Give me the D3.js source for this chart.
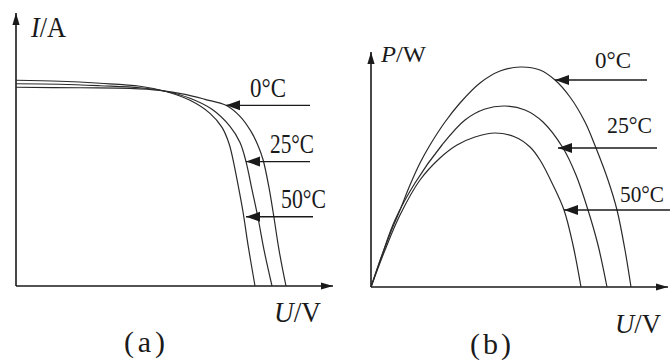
<!DOCTYPE html>
<html>
<head>
<meta charset="utf-8">
<script src="https://cdn.jsdelivr.net/npm/d3@7"></script>
<style>
  html, body { margin: 0; padding: 0; background: #fff; }
  svg { display: block; }
  svg text { font-family: "Liberation Serif", "Times New Roman", "DejaVu Serif", serif; }
</style>
</head>
<body>
<svg id="chart" width="670" height="360"></svg>
<script>
// temperatures
const temps = ["0°C", "25°C", "50°C"];

// (a) I-U curves (U in V, I in A, arbitrary units)
const ivU0  = [0, 6.4, 11.4, 14.4, 16.9, 18.9, 21.0, 22.4, 23.5, 24.2, 24.7, 25.3, 25.8, 26.3, 27.0];
const ivI0  = [4.95, 4.9375, 4.925, 4.875, 4.775, 4.65, 4.5, 4.225, 3.85, 3.5, 3.15, 2.45, 1.7, 0.9, 0];
const ivU25 = [0, 4.4, 8.4, 12.4, 14.9, 17.4, 19.6, 21.4, 22.4, 23.0, 23.6, 24.2, 24.8, 25.6];
const ivI25 = [5.0375, 5.025, 4.9875, 4.9375, 4.85, 4.675, 4.4, 3.975, 3.575, 3.1, 2.4, 1.7, 0.9, 0];
const ivU50 = [0, 4.4, 8.4, 12.4, 14.9, 17.4, 19.4, 20.6, 21.3, 21.7, 22.2, 22.7, 23.2, 23.9];
const ivI50 = [5.125, 5.1, 5.05, 4.975, 4.85, 4.625, 4.3, 3.95, 3.55, 3.15, 2.525, 1.85, 1.025, 0];

// (b) P-U curves (U in V, P in W)
const pvU0  = [0, 0.9, 1.9, 2.9, 3.9, 4.9, 5.9, 7.4, 8.9, 10.9, 12.9, 14.9, 16.9, 18.4, 19.9, 21.4, 22.5, 23.7, 24.6, 25.4, 26.0];
const pvP0  = [0, 5.2, 10.6, 15.4, 20.4, 24.8, 28.4, 33.0, 36.8, 40.8, 43.2, 44.0, 43.4, 41.4, 38.0, 33.0, 27.8, 21.4, 15.4, 7.4, 0];
const pvU25 = [0, 1.1, 2.4, 4.4, 7.1, 9.4, 11.4, 13.4, 15.4, 17.2, 19.2, 20.5, 21.7, 22.7, 23.6];
const pvP25 = [0, 6.4, 13.4, 20.8, 28.4, 33.4, 35.6, 36.2, 35.4, 33.0, 27.8, 22.4, 15.4, 8.4, 0];
const pvU50 = [0, 1.4, 2.9, 4.9, 6.9, 8.6, 10.4, 12.4, 14.4, 15.9, 16.9, 18.2, 19.3, 20.2, 21.0];
const pvP50 = [0, 7.4, 14.4, 21.4, 25.8, 28.4, 30.0, 30.8, 30.0, 28.0, 25.4, 20.4, 15.4, 8.4, 0];

// arrows pointing at the curves (data units)
const arrowLevelA = [4.5, 3.1, 1.725];
const arrowTipA   = [21.0, 23.0, 23.0];
const arrowTailA  = [29.4, 29.4, 29.7];
const arrowLevelB = [41.4, 27.8, 15.4];
const arrowTipB   = [18.4, 18.7, 19.3];
const arrowTailB  = [27.6, 28.6, 29.9];

const svg = d3.select("#chart");
const ink = "#1a1a1a";
const serif = "'Liberation Serif', 'Times New Roman', 'DejaVu Serif', serif";

// markers
const defs = svg.append("defs");
defs.append("marker")
    .attr("id", "axisHead")
    .attr("markerUnits", "userSpaceOnUse")
    .attr("viewBox", "0 -5 12 10")
    .attr("refX", 12).attr("refY", 0)
    .attr("markerWidth", 12).attr("markerHeight", 10)
    .attr("orient", "auto")
    .append("path").attr("d", "M0,-3.6L12,0L0,3.6Z").attr("fill", ink);
defs.append("marker")
    .attr("id", "noteHead")
    .attr("markerUnits", "userSpaceOnUse")
    .attr("viewBox", "0 -6 14 12")
    .attr("refX", 14).attr("refY", 0)
    .attr("markerWidth", 14).attr("markerHeight", 12)
    .attr("orient", "auto")
    .append("path").attr("d", "M0,-5L14,0L0,5Z").attr("fill", ink);

function zip(us, vs) {
    return us.map((u, i) => [u, vs[i]]);
}

function drawPanel(cfg) {
    const { x, y, series, level, tip, tail, labels, axisLabelY, axisLabelX, caption } = cfg;
    const g = svg.append("g");

    // axes
    const x0 = x.range()[0], x1 = x.range()[1];
    const y0 = y.range()[0], y1 = y.range()[1];
    g.append("line")
        .attr("x1", x0).attr("y1", y0).attr("x2", x1).attr("y2", y0)
        .attr("stroke", ink).attr("stroke-width", 1.6)
        .attr("marker-end", "url(#axisHead)");
    g.append("line")
        .attr("x1", x0).attr("y1", y0).attr("x2", x0).attr("y2", y1)
        .attr("stroke", ink).attr("stroke-width", 1.6)
        .attr("marker-end", "url(#axisHead)");

    // curves
    const line = d3.line()
        .x(d => x(d[0]))
        .y(d => y(d[1]))
        .curve(d3.curveCatmullRom.alpha(0.5));
    g.selectAll("path.curve")
        .data(series)
        .join("path")
        .attr("class", "curve")
        .attr("d", line)
        .attr("fill", "none")
        .attr("stroke", "#2a2a2a")
        .attr("stroke-width", 1.2);

    // arrows
    g.selectAll("line.note")
        .data(level)
        .join("line")
        .attr("class", "note")
        .attr("x1", (d, i) => x(tail[i]))
        .attr("x2", (d, i) => x(tip[i]))
        .attr("y1", d => y(d))
        .attr("y2", d => y(d))
        .attr("stroke", ink)
        .attr("stroke-width", 1.3)
        .attr("marker-end", "url(#noteHead)");

    // temperature labels
    g.selectAll("text.temp")
        .data(temps)
        .join("text")
        .attr("class", "temp")
        .attr("x", (d, i) => labels[i][0])
        .attr("y", (d, i) => labels[i][1])
        .attr("font-family", serif)
        .attr("font-size", labels.size)
        .attr("textLength", (d, i) => labels[i][2])
        .attr("lengthAdjust", "spacingAndGlyphs")
        .attr("fill", ink)
        .text(d => d);

    // axis labels
    [axisLabelY, axisLabelX].forEach(a => {
        const t = g.append("text")
            .attr("x", a.x).attr("y", a.y)
            .attr("font-family", serif)
            .attr("font-size", a.size)
            .attr("textLength", a.w)
            .attr("lengthAdjust", "spacingAndGlyphs")
            .attr("fill", ink);
        t.append("tspan").attr("font-style", "italic").text(a.sym);
        t.append("tspan").text("/" + a.unit);
    });

    g.append("text")
        .attr("x", caption.x).attr("y", caption.y)
        .attr("font-family", serif)
        .attr("font-size", 30)
        .attr("textLength", 41)
        .attr("lengthAdjust", "spacing")
        .attr("fill", ink)
        .text(caption.text);
}

// panel (a)
const xA = d3.scaleLinear().domain([0, 31.7]).range([16, 333]);
const yA = d3.scaleLinear().domain([0, 6.8]).range([286, 13]);
const labelsA = [[250, 97, 36], [270, 153, 44], [281, 208, 45]];
labelsA.size = 28;
drawPanel({
    x: xA, y: yA,
    series: [zip(ivU0, ivI0), zip(ivU25, ivI25), zip(ivU50, ivI50)],
    level: arrowLevelA, tip: arrowTipA, tail: arrowTailA,
    labels: labelsA,
    axisLabelY: { sym: "I", unit: "A", x: 31, y: 37, size: 30, w: 35 },
    axisLabelX: { sym: "U", unit: "V", x: 274, y: 322, size: 30, w: 47 },
    caption: { text: "(a)", x: 124, y: 352 }
});

// panel (b)
const xB = d3.scaleLinear().domain([0, 29.7]).range([371, 668]);
const yB = d3.scaleLinear().domain([0, 47]).range([287, 52]);
const labelsB = [[595, 68, 36], [607, 133, 45], [620, 202, 44]];
labelsB.size = 23;
drawPanel({
    x: xB, y: yB,
    series: [zip(pvU0, pvP0), zip(pvU25, pvP25), zip(pvU50, pvP50)],
    level: arrowLevelB, tip: arrowTipB, tail: arrowTailB,
    labels: labelsB,
    axisLabelY: { sym: "P", unit: "W", x: 381, y: 62, size: 24, w: 45 },
    axisLabelX: { sym: "U", unit: "V", x: 615, y: 333, size: 28, w: 46 },
    caption: { text: "(b)", x: 470, y: 354 }
});
</script>
</body>
</html>
